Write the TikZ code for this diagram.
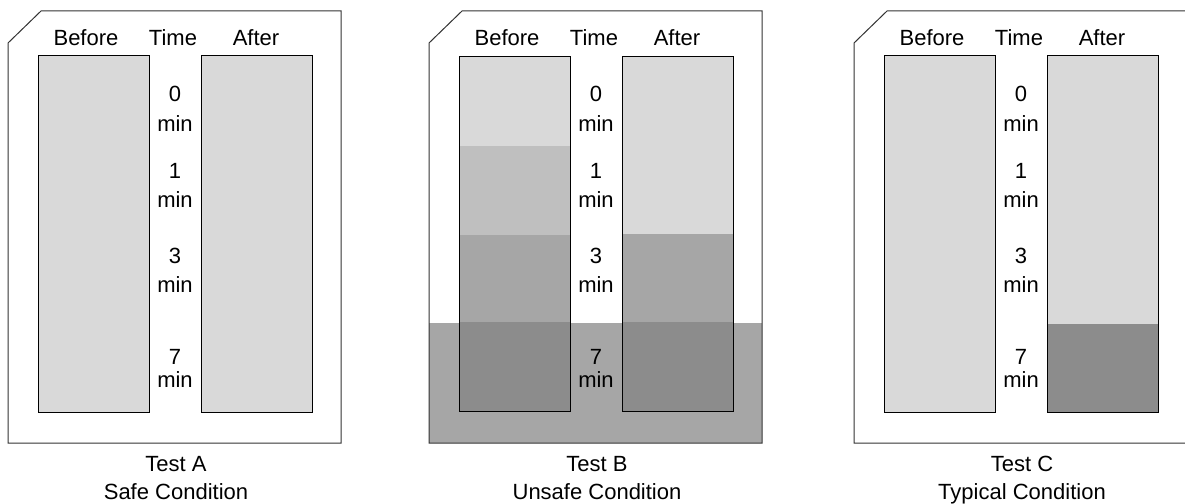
\documentclass[tikz,border=0pt]{standalone}
\usepackage{fontspec}
\setmainfont{Liberation Sans}
\definecolor{glight}{HTML}{D9D9D9}
\definecolor{gmid}{HTML}{BFBFBF}
\definecolor{gdeep}{HTML}{A6A6A6}
\definecolor{gdark}{HTML}{8C8C8C}
\newcommand\panelshape{(8,43) -- (41,11) -- (341,11) -- (341,443) -- (8,443) -- cycle}
\newcommand\panellabels[3]{%
  \node[lab] (#1-before) at (86,46) {Before};
  \node[lab] (#1-time) at (173,46) {Time};
  \node[lab] (#1-after) at (256,46) {After};
  \node[lab] (#1-t0) at (175,101) {0};
  \node[lab] (#1-m0) at (175,131) {min};
  \node[lab] (#1-t1) at (175,178) {1};
  \node[lab] (#1-m1) at (175,207) {min};
  \node[lab] (#1-t3) at (175,263) {3};
  \node[lab] (#1-m3) at (175,292) {min};
  \node[lab] (#1-t7) at (175,364) {7};
  \node[lab] (#1-m7) at (175,387) {min};
  \node[lab] (#1-test) at (176,471) {#2};
  \node[lab] (#1-cond) at (176,499) {#3};
}
\begin{document}
\begin{tikzpicture}[x=1pt,y=-1pt,
  lab/.style={font=\fontsize{22}{24}\selectfont, anchor=base, inner sep=0pt},
  outline/.style={draw=black!80, line width=1pt},
  tube/.style={draw=black, line width=1pt}]
\useasboundingbox (0,0) rectangle (1185,503);
% Panel A
\begin{scope}
  \draw[outline, fill=white] \panelshape;
  \draw[tube, fill=glight] (38,56) rectangle (149,412);
  \draw[tube, fill=glight] (201,56) rectangle (312,412);
  \panellabels{a}{Test A}{Safe Condition}
\end{scope}
% Panel B
\begin{scope}[xshift=421pt]
  \fill[white] \panelshape;
  \fill[gdeep] (8,323) rectangle (341,443);
  \draw[outline] \panelshape;
  \fill[glight] (38,57) rectangle (149,146);
  \fill[gmid] (38,146) rectangle (149,235);
  \fill[gdeep] (38,235) rectangle (149,322);
  \fill[gdark] (38,322) rectangle (149,411);
  \draw[tube] (38,57) rectangle (149,411);
  \fill[glight] (201,57) rectangle (312,234);
  \fill[gdeep] (201,234) rectangle (312,322);
  \fill[gdark] (201,322) rectangle (312,411);
  \draw[tube] (201,57) rectangle (312,411);
  \panellabels{b}{Test B}{Unsafe Condition}
\end{scope}
% Panel C
\begin{scope}[xshift=846pt]
  \draw[outline, fill=white] \panelshape;
  \draw[tube, fill=glight] (38,56) rectangle (149,412);
  \fill[glight] (201,56) rectangle (312,324);
  \fill[gdark] (201,324) rectangle (312,412);
  \draw[tube] (201,56) rectangle (312,412);
  \panellabels{c}{Test C}{Typical Condition}
\end{scope}
\end{tikzpicture}
\end{document}
